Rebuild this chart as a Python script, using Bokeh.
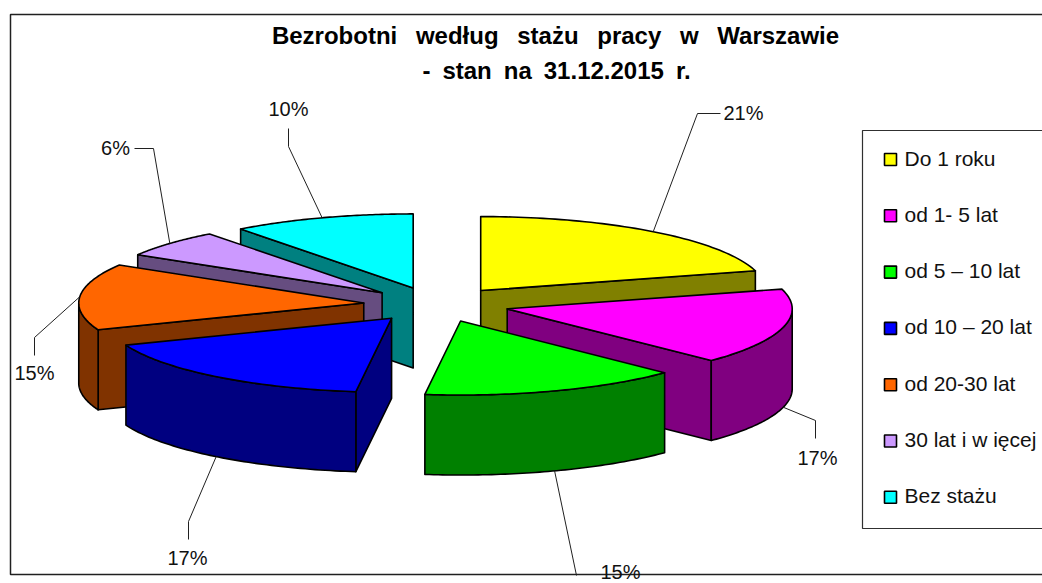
import numpy as np
from bokeh.plotting import figure
from bokeh.models import Range1d
from bokeh.core.properties import value
from bokeh.embed import file_html
from bokeh.resources import INLINE

# ---- data ----
categories = ["Do 1 roku", "od 1- 5 lat", "od 5 – 10 lat", "od 10 – 20 lat",
              "od 20-30 lat", "30 lat i w ięcej", "Bez stażu"]
shares = [20.7, 16.6, 14.7, 17.1, 14.5, 6.05, 10.35]
pct_labels = ["21%", "17%", "15%", "17%", "15%", "6%", "10%"]
title_lines = ["Bezrobotni według stażu pracy w Warszawie", "- stan na 31.12.2015 r."]

# ---- styles / layout ----
fills = ["#FFFF00", "#FF00FF", "#00FF00", "#0000FF", "#FF6600", "#CC99FF", "#00FFFF"]
walls = ["#808000", "#800080", "#008000", "#000080", "#803300", "#664D80", "#008080"]
draw_order = [0, 6, 5, 4, 1, 3, 2]
CX, CY, RX, RY, WALL, EX, EY = 436, 304, 285, 74, 80, 73, 17.5
FONT = "Liberation Sans"
# elbow and label-centre for each leader line
elbows = [(697, 113), (815, 420), None, (188, 521), (34, 337), (153, 148), (288, 146)]
ends = [(720, 113), (815, 438), (576, 575), (188, 539), (34, 355), (134, 148), (288, 128)]
label_xy = [(743, 112), (817, 457), (620, 571), (187, 557), (34, 372), (115, 147), (288, 108)]

p = figure(width=1042, height=583, x_range=Range1d(0, 1042), y_range=Range1d(583, 0),
           x_axis_location=None, y_axis_location=None, toolbar_location=None,
           output_backend="svg", min_border=0, outline_line_color=None,
           background_fill_color="white", border_fill_color="white")
p.grid.visible = False

# chart frame and legend box
p.quad(left=[10], right=[1060], top=[14], bottom=[574], fill_color="white",
       line_color="#202020", line_width=1.5)
p.quad(left=[862], right=[1060], top=[130], bottom=[528], fill_color="white",
       line_color="#303030", line_width=1.2)

# ---- pie geometry from the shares ----
total = sum(shares)
edges = np.radians(np.concatenate([[0], np.cumsum(shares)]) / total * 360)


def rim(a0, a1, ax, ay, n=60):
    t = np.linspace(a0, a1, n)
    return ax + RX * np.sin(t), ay - RY * np.cos(t)


for i in draw_order:
    a0, a1 = edges[i], edges[i + 1]
    mid = (a0 + a1) / 2
    ax = CX + EX * np.sin(mid)
    ay = CY - EY * np.cos(mid)
    mx, my = RX * np.sin(mid), -RY * np.cos(mid)
    kw = dict(line_color="black", line_width=1.6, line_join="round")
    # radial side walls: only those that face the viewer
    for a in (a0, a1):
        dx, dy = RX * np.sin(a), -RY * np.cos(a)
        if abs(dx) > 1e-6 and dx * (dx * my - dy * mx) < 0:
            ex, ey = ax + dx, ay + dy
            p.patch([ax, ex, ex, ax], [ay, ey, ey + WALL, ay + WALL], fill_color=walls[i], **kw)
    # outer wall: front half of the rim only
    f0, f1 = max(a0, np.pi / 2), min(a1, 3 * np.pi / 2)
    if f1 > f0:
        rx, ry = rim(f0, f1, ax, ay)
        p.patch(np.r_[rx, rx[::-1]], np.r_[ry, ry[::-1] + WALL], fill_color=walls[i], **kw)
    # top face
    rx, ry = rim(a0, a1, ax, ay)
    p.patch(np.r_[ax, rx], np.r_[ay, ry], fill_color=fills[i], **kw)

# leader lines start on the slice rim at the mid-angle
for i, lab in enumerate(pct_labels):
    a0, a1 = edges[i], edges[i + 1]
    mid = (a0 + a1) / 2
    ax = CX + EX * np.sin(mid)
    ay = CY - EY * np.cos(mid)
    sx = ax + RX * np.sin(mid)
    sy = ay - RY * np.cos(mid) + (WALL if np.cos(mid) < 0 else 0)
    xs, ys = [sx], [sy]
    if elbows[i] is not None:
        xs.append(elbows[i][0]); ys.append(elbows[i][1])
    xs.append(ends[i][0]); ys.append(ends[i][1])
    p.line(xs, ys, line_color="#202020", line_width=1)

p.text(x=[q[0] for q in label_xy], y=[q[1] for q in label_xy], text=pct_labels,
       text_font=value(FONT), text_font_size="20px", text_color="#111111",
       text_align="center", text_baseline="middle")

# legend
rows = 159 + 56.3 * np.arange(len(categories))
p.scatter(x=[890] * len(categories), y=rows, marker="square", size=12, fill_color=fills,
          line_color="black", line_width=1.6)
p.text(x=[904] * len(categories), y=rows - 1.5, text=categories, text_font=value(FONT),
       text_font_size="21px", text_color="#111111", text_align="left", text_baseline="middle")

# title (widened word gaps stand in for the reference's loose letter spacing)
p.text(x=[555, 556], y=[35, 70],
       text=[title_lines[0].replace(" ", " \u2002"), title_lines[1].replace(" ", "\u2002")],
       text_font=value(FONT), text_font_style="bold", text_font_size="24px", text_color="black",
       text_align="center", text_baseline="middle")

open("out.html", "w").write(file_html(p, INLINE))
